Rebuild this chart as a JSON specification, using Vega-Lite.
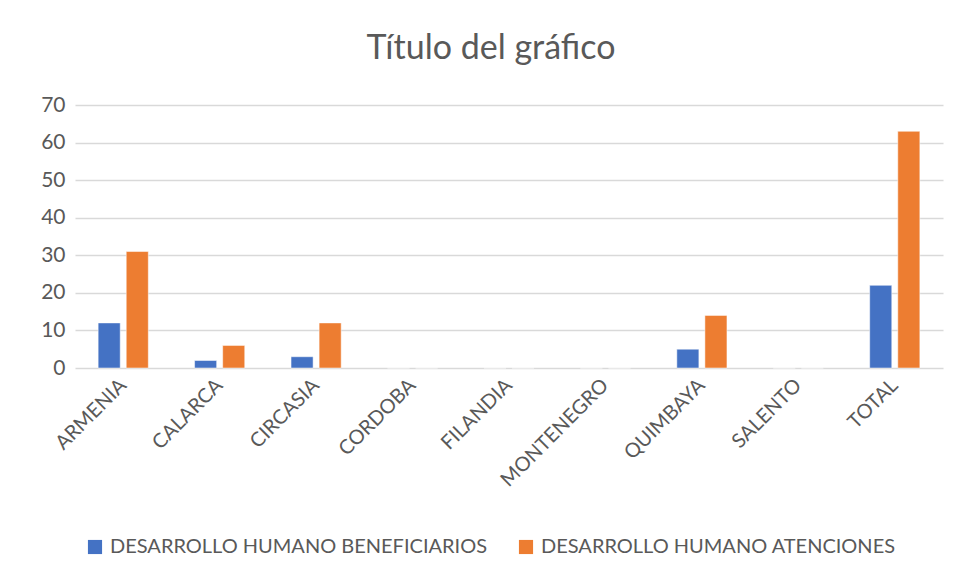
{
  "$schema": "https://vega.github.io/schema/vega-lite/v6.json",
  "width": 868,
  "height": 263,
  "autosize": {"type": "none"},
  "padding": {"left": 75, "top": 105, "right": 18, "bottom": 212},
  "background": "white",
  "title": {
    "text": "Título del gráfico",
    "anchor": "middle",
    "frame": "group",
    "dx": -18,
    "offset": 28,
    "fontSize": 34,
    "font": "Lato",
    "fontWeight": "normal",
    "color": "#595959"
  },
  "data": {
    "values": [
      {"Municipio": "ARMENIA", "Serie": "DESARROLLO HUMANO BENEFICIARIOS", "Valor": 12},
      {"Municipio": "ARMENIA", "Serie": "DESARROLLO HUMANO ATENCIONES", "Valor": 31},
      {"Municipio": "CALARCA", "Serie": "DESARROLLO HUMANO BENEFICIARIOS", "Valor": 2},
      {"Municipio": "CALARCA", "Serie": "DESARROLLO HUMANO ATENCIONES", "Valor": 6},
      {"Municipio": "CIRCASIA", "Serie": "DESARROLLO HUMANO BENEFICIARIOS", "Valor": 3},
      {"Municipio": "CIRCASIA", "Serie": "DESARROLLO HUMANO ATENCIONES", "Valor": 12},
      {"Municipio": "CORDOBA", "Serie": "DESARROLLO HUMANO BENEFICIARIOS", "Valor": 0},
      {"Municipio": "CORDOBA", "Serie": "DESARROLLO HUMANO ATENCIONES", "Valor": 0},
      {"Municipio": "FILANDIA", "Serie": "DESARROLLO HUMANO BENEFICIARIOS", "Valor": 0},
      {"Municipio": "FILANDIA", "Serie": "DESARROLLO HUMANO ATENCIONES", "Valor": 0},
      {"Municipio": "MONTENEGRO", "Serie": "DESARROLLO HUMANO BENEFICIARIOS", "Valor": 0},
      {"Municipio": "MONTENEGRO", "Serie": "DESARROLLO HUMANO ATENCIONES", "Valor": 0},
      {"Municipio": "QUIMBAYA", "Serie": "DESARROLLO HUMANO BENEFICIARIOS", "Valor": 5},
      {"Municipio": "QUIMBAYA", "Serie": "DESARROLLO HUMANO ATENCIONES", "Valor": 14},
      {"Municipio": "SALENTO", "Serie": "DESARROLLO HUMANO BENEFICIARIOS", "Valor": 0},
      {"Municipio": "SALENTO", "Serie": "DESARROLLO HUMANO ATENCIONES", "Valor": 0},
      {"Municipio": "TOTAL", "Serie": "DESARROLLO HUMANO BENEFICIARIOS", "Valor": 22},
      {"Municipio": "TOTAL", "Serie": "DESARROLLO HUMANO ATENCIONES", "Valor": 63}
    ]
  },
  "mark": {"type": "bar", "stroke": "white", "strokeWidth": 0.5},
  "encoding": {
    "x": {
      "field": "Municipio",
      "type": "nominal",
      "sort": null,
      "title": null,
      "scale": {"paddingInner": 0.48, "paddingOuter": 0.24},
      "axis": {
        "labelAngle": -45,
        "labelAlign": "right",
        "labelBaseline": "middle",
        "labelFont": "Lato",
        "labelFontSize": 20,
        "labelColor": "#595959",
        "labelPadding": 14,
        "labelLimit": 300,
        "ticks": false,
        "domain": false,
        "grid": false
      }
    },
    "xOffset": {
      "field": "Serie",
      "type": "nominal",
      "sort": ["DESARROLLO HUMANO BENEFICIARIOS", "DESARROLLO HUMANO ATENCIONES"],
      "scale": {"paddingInner": 0.214, "paddingOuter": 0}
    },
    "y": {
      "field": "Valor",
      "type": "quantitative",
      "title": null,
      "scale": {"domain": [0, 70], "nice": false},
      "axis": {
        "values": [0, 10, 20, 30, 40, 50, 60, 70],
        "labelFont": "Lato",
        "labelFontSize": 21,
        "labelColor": "#595959",
        "labelPadding": 10,
        "ticks": false,
        "domain": false,
        "gridColor": "#D9D9D9",
        "gridWidth": 1.3
      }
    },
    "color": {
      "field": "Serie",
      "type": "nominal",
      "sort": ["DESARROLLO HUMANO BENEFICIARIOS", "DESARROLLO HUMANO ATENCIONES"],
      "scale": {
        "domain": ["DESARROLLO HUMANO BENEFICIARIOS", "DESARROLLO HUMANO ATENCIONES"],
        "range": ["#4472C4", "#ED7D31"]
      },
      "legend": {
        "title": null,
        "orient": "none",
        "direction": "horizontal",
        "legendX": 10,
        "legendY": 432,
        "symbolType": "square",
        "symbolSize": 200,
        "symbolStrokeWidth": 0,
        "labelFont": "Lato",
        "labelFontSize": 20,
        "labelColor": "#595959",
        "labelLimit": 500,
        "labelOffset": 5,
        "columnPadding": 28
      }
    }
  },
  "config": {"view": {"stroke": null}}
}
